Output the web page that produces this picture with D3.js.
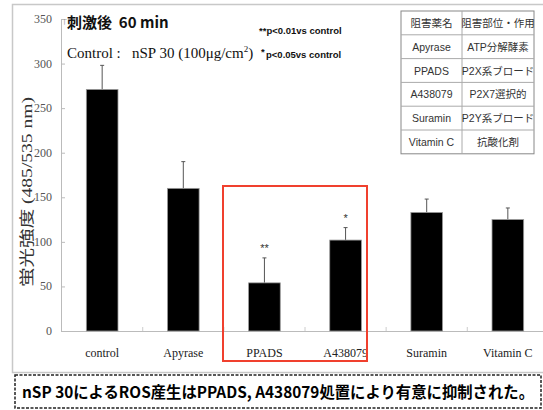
<!DOCTYPE html>
<html>
<head>
<meta charset="utf-8">
<script src="https://cdn.jsdelivr.net/npm/d3@7"></script>
<style>
  body { margin: 0; background: #fff; }
  svg { display: block; }
  text { white-space: pre; }
</style>
</head>
<body>
<script>
// data
const categories = ["control", "Apyrase", "PPADS", "A438079", "Suramin", "Vitamin C"];
const values = [271, 160, 54, 102, 133, 125];
const errors = [27, 30, 28, 14, 15, 13];
const marks = ["", "", "**", "*", "", ""];
const yTicks = [0, 50, 100, 150, 200, 250, 300, 350];
const tableRows = [
    ["阻害薬名", "阻害部位・作用"],
    ["Apyrase", "ATP分解酵素"],
    ["PPADS", "P2X系ブロード"],
    ["A438079", "P2X7選択的"],
    ["Suramin", "P2Y系ブロード"],
    ["Vitamin C", "抗酸化剤"]
];

const width = 543, height = 410;
const serif = "'Liberation Serif', 'DejaVu Serif', 'Noto Sans CJK JP', serif";
const sans = "'Liberation Sans', 'Noto Sans CJK JP', sans-serif";

const svg = d3.select("body").append("svg")
    .attr("width", width)
    .attr("height", height);

// outer grey frame
svg.append("rect")
    .attr("x", 12.5).attr("y", 4.5)
    .attr("width", 540).attr("height", 368)
    .attr("fill", "none").attr("stroke", "#c8c8c8").attr("stroke-width", 1.5);

const x = d3.scaleBand()
    .domain(categories)
    .range([62, 548])
    .paddingInner(0.61)
    .paddingOuter(0.3);

const y = d3.scaleLinear()
    .domain([0, 350])
    .range([331, 19]);

// y axis
const yAxis = svg.append("g")
    .attr("transform", "translate(61,0)")
    .call(d3.axisRight(y).tickValues(yTicks).tickSize(4).tickFormat(""));
yAxis.select(".domain").attr("stroke", "#bbb");
yAxis.selectAll(".tick line").attr("stroke", "#bbb");

svg.append("g").selectAll("text")
    .data(yTicks)
    .enter().append("text")
    .attr("x", 52)
    .attr("y", d => y(d) + 4)
    .attr("text-anchor", "end")
    .attr("font-family", serif)
    .attr("font-size", 12)
    .attr("fill", "#555")
    .text(d => d);

// x axis
const xAxis = svg.append("g")
    .attr("transform", "translate(0,331)")
    .call(d3.axisBottom(x).tickSize(0).tickFormat(""));
xAxis.select(".domain").attr("stroke", "#bbb");

// small separators between categories
svg.append("g").selectAll("line")
    .data(categories.slice(1))
    .enter().append("line")
    .attr("x1", d => x(d) - x.step() * x.paddingInner() / 2)
    .attr("x2", d => x(d) - x.step() * x.paddingInner() / 2)
    .attr("y1", 331).attr("y2", 327)
    .attr("stroke", "#ccc");

svg.append("g").selectAll("text")
    .data(categories)
    .enter().append("text")
    .attr("x", d => x(d) + x.bandwidth() / 2)
    .attr("y", 357)
    .attr("text-anchor", "middle")
    .attr("font-family", serif)
    .attr("font-size", 12)
    .attr("fill", "#222")
    .text(d => d);

// y label
svg.append("text")
    .attr("transform", "translate(32,192) rotate(-90)")
    .attr("text-anchor", "middle")
    .attr("font-family", serif)
    .attr("font-size", 15)
    .attr("fill", "#333")
    .attr("textLength", 190).attr("lengthAdjust", "spacingAndGlyphs")
    .text("蛍光強度 (485/535 nm)");

// error bars
const errG = svg.append("g");
categories.forEach((c, i) => {
    const cx = x(c) + x.bandwidth() / 2;
    errG.append("line")
        .attr("x1", cx).attr("x2", cx)
        .attr("y1", y(values[i])).attr("y2", y(values[i] + errors[i]))
        .attr("stroke", "#555").attr("stroke-width", 1);
    errG.append("line")
        .attr("x1", cx - 2).attr("x2", cx + 2)
        .attr("y1", y(values[i] + errors[i])).attr("y2", y(values[i] + errors[i]))
        .attr("stroke", "#555").attr("stroke-width", 1);
});

// bars
svg.append("g").selectAll("rect")
    .data(values)
    .enter().append("rect")
    .attr("x", (d, i) => x(categories[i]))
    .attr("y", d => y(d))
    .attr("width", x.bandwidth())
    .attr("height", d => y(0) - y(d))
    .attr("fill", "#000")
    .attr("stroke", "#999")
    .attr("stroke-width", 0.8);

// significance marks
svg.append("g").selectAll("text")
    .data(marks)
    .enter().append("text")
    .attr("x", (d, i) => x(categories[i]) + x.bandwidth() / 2)
    .attr("y", (d, i) => y(values[i] + errors[i]) - 6)
    .attr("text-anchor", "middle")
    .attr("font-family", sans)
    .attr("font-size", 11)
    .attr("fill", "#333")
    .text(d => d);

// red highlight box around PPADS and A438079
svg.append("rect")
    .attr("x", 223).attr("y", 186)
    .attr("width", 144).attr("height", 175)
    .attr("fill", "none")
    .attr("stroke", "#f0402e")
    .attr("stroke-width", 2);

// header texts
svg.append("text")
    .attr("x", 59).attr("y", 26)
    .attr("font-family", sans).attr("font-size", 8).attr("fill", "#999")
    .text("「");
svg.append("text")
    .attr("x", 67).attr("y", 28)
    .attr("font-family", "'Noto Sans CJK JP', sans-serif")
    .attr("font-size", 15).attr("font-weight", "bold").attr("fill", "#111")
    .text("刺激後  60 min");

const ctrl = svg.append("text")
    .attr("x", 67).attr("y", 58)
    .attr("font-family", serif)
    .attr("font-size", 15).attr("fill", "#111");
ctrl.append("tspan").text("Control :   nSP 30 (100μg/cm");
ctrl.append("tspan").attr("font-size", 9).attr("dy", -6).text("2");
ctrl.append("tspan").attr("dy", 6).text(")");

svg.append("text")
    .attr("x", 259).attr("y", 34)
    .attr("font-family", sans).attr("font-size", 9.5).attr("font-weight", "bold").attr("fill", "#111")
    .text("**p<0.01vs control");
svg.append("text")
    .attr("x", 266).attr("y", 58)
    .attr("font-family", sans).attr("font-size", 9.5).attr("font-weight", "bold").attr("fill", "#111")
    .text("p<0.05vs control");
svg.append("text")
    .attr("x", 261).attr("y", 55)
    .attr("font-family", sans).attr("font-size", 9.5).attr("font-weight", "bold").attr("fill", "#111")
    .text("*");

// inhibitor table
const tx0 = 401, tx1 = 462, tx2 = 534, ty0 = 11, rowH = 23.8;
const table = svg.append("g");
table.append("rect")
    .attr("x", tx0).attr("y", ty0)
    .attr("width", tx2 - tx0).attr("height", rowH * tableRows.length)
    .attr("fill", "#fff").attr("stroke", "#888").attr("stroke-width", 1);
table.append("line")
    .attr("x1", tx1).attr("x2", tx1)
    .attr("y1", ty0).attr("y2", ty0 + rowH * tableRows.length)
    .attr("stroke", "#aaa");
tableRows.forEach((r, i) => {
    if (i > 0) {
        table.append("line")
            .attr("x1", tx0).attr("x2", tx2)
            .attr("y1", ty0 + rowH * i).attr("y2", ty0 + rowH * i)
            .attr("stroke", "#aaa");
    }
    [0, 1].forEach(j => {
        table.append("text")
            .attr("x", j === 0 ? (tx0 + tx1) / 2 : (tx1 + tx2) / 2)
            .attr("y", ty0 + rowH * i + rowH / 2 + 4)
            .attr("text-anchor", "middle")
            .attr("font-family", "'Liberation Sans Narrow', 'Liberation Sans', 'Noto Sans CJK JP', sans-serif")
            .attr("font-size", 10.5)
            .attr("fill", "#333")
            .text(r[j]);
    });
});

// conclusion box
svg.append("rect")
    .attr("x", 15).attr("y", 375)
    .attr("width", 526).attr("height", 33)
    .attr("fill", "none")
    .attr("stroke", "#222").attr("stroke-width", 1.5)
    .attr("stroke-dasharray", "3,1.5");
svg.append("text")
    .attr("x", 22).attr("y", 398)
    .attr("font-family", "'Noto Sans CJK JP', sans-serif")
    .attr("font-size", 15.5).attr("font-weight", "bold")
    .attr("fill", "#000")
    .attr("textLength", 512).attr("lengthAdjust", "spacingAndGlyphs")
    .text("nSP 30によるROS産生はPPADS, A438079処置により有意に抑制された。");
</script>
</body>
</html>
